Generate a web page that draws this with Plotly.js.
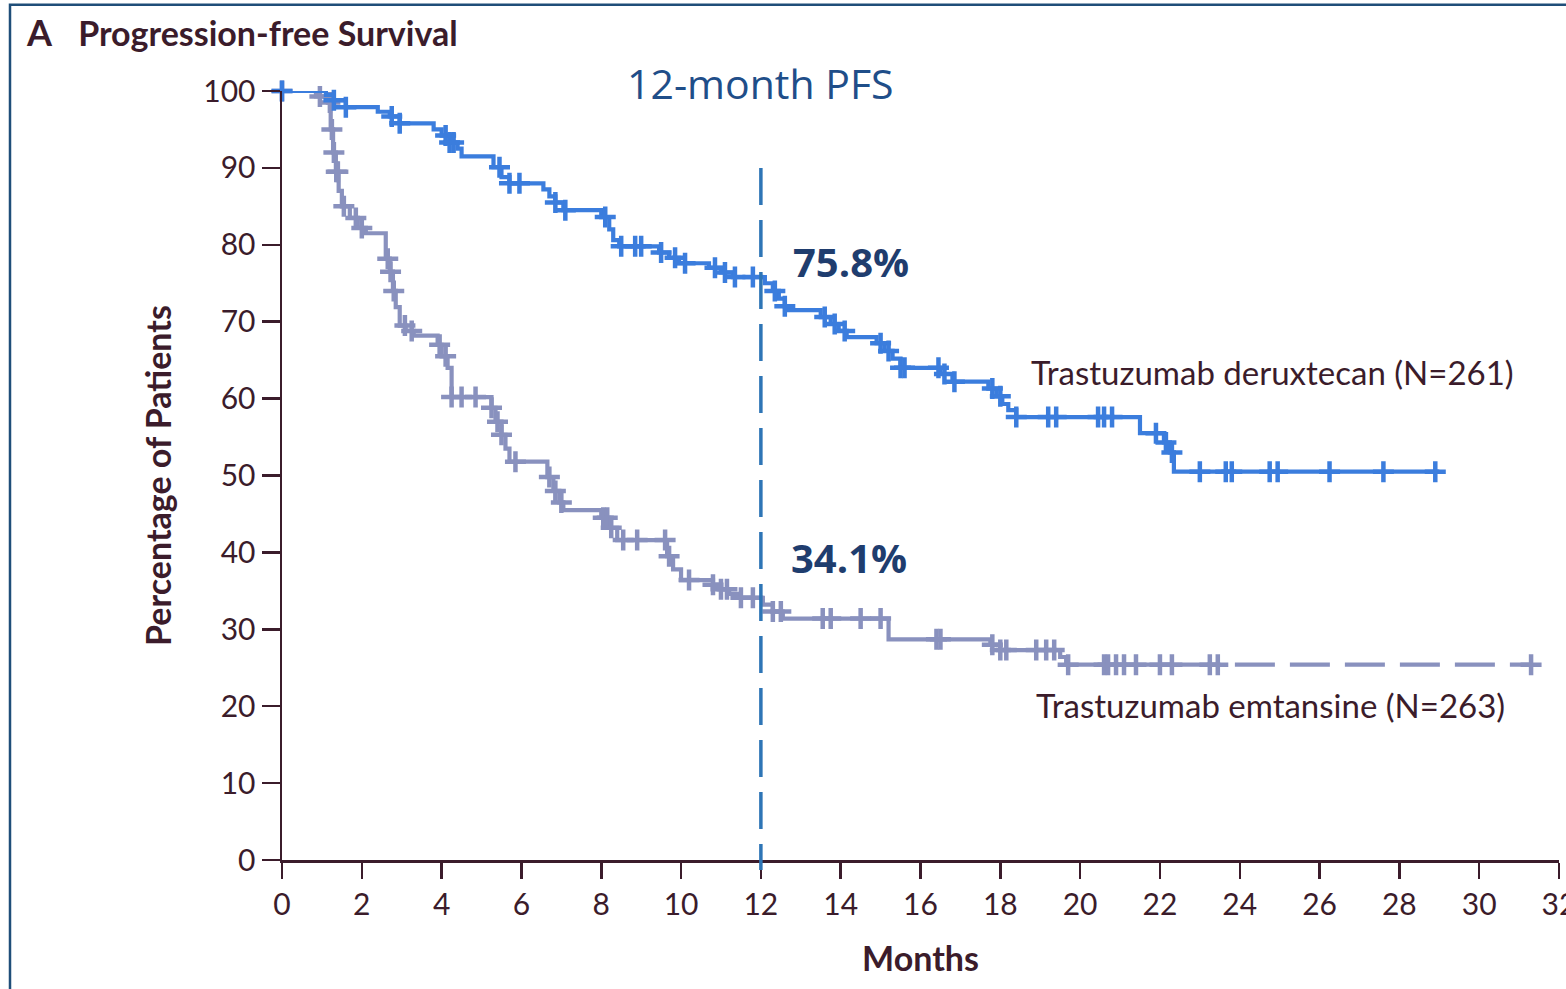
<!DOCTYPE html>
<html>
<head>
<meta charset="utf-8">
<script src="https://cdn.plot.ly/plotly-3.0.1.min.js"></script>
<style>html,body{margin:0;padding:0;background:#fff;}#chart{width:1566px;height:989px;}</style>
</head>
<body>
<div id="chart"></div>
<script>
// ---- Data ----
const xTicks = [0,2,4,6,8,10,12,14,16,18,20,22,24,26,28,30,32];
const yTicks = [0,10,20,30,40,50,60,70,80,90,100];

// Trastuzumab deruxtecan: step times (months) and survival (%) after each step
const dxdTimes = [0,1.1,1.3,1.6,2.4,2.7,2.95,3.8,4.0,4.2,4.4,4.5,5.3,5.5,5.7,6.55,6.7,6.85,7.05,8.0,8.2,8.3,8.45,9.45,9.7,9.95,10.7,11.0,11.3,12.1,12.3,12.45,12.6,12.7,13.5,13.75,13.95,14.15,14.9,15.1,15.3,15.5,16.5,16.8,17.7,17.9,18.05,18.2,18.4,21.5,22.1,22.25,22.35];
const dxdSurv  = [100,99.5,98.8,97.9,97.3,96.7,95.8,95.0,94.2,93.3,92.5,91.5,90.1,88.8,88.0,87.2,86.3,85.5,84.5,83.6,82.0,80.6,79.8,79.0,78.3,77.6,77.0,76.4,75.8,75.0,74.0,73.0,72.0,71.5,70.6,69.7,68.8,68.0,67.2,66.2,65.2,64.0,63.2,62.2,61.3,60.3,59.3,58.5,57.6,55.5,54.3,53.0,50.5];
const dxdEnd = 29.0;
const dxdCensor = [0,1.3,1.6,2.75,2.95,4.1,4.2,4.3,5.45,5.7,5.95,6.85,7.1,8.1,8.5,8.85,9.0,9.5,9.85,10.1,10.85,11.1,11.35,11.8,12.35,12.6,13.6,13.85,14.1,15.0,15.2,15.5,15.6,16.45,16.6,16.85,17.8,18.0,18.4,19.2,19.4,20.45,20.6,20.8,21.9,22.15,22.3,23.0,23.65,23.8,24.75,24.95,26.25,27.6,28.9];

// Trastuzumab emtansine
const tdmTimes = [0,0.85,1.15,1.22,1.28,1.35,1.42,1.5,1.7,1.9,2.1,2.6,2.7,2.78,2.85,2.95,3.1,3.3,3.9,4.0,4.15,4.25,5.25,5.35,5.5,5.6,5.7,6.65,6.8,6.95,7.05,8.0,8.2,8.4,9.65,9.8,10.0,10.8,11.0,11.2,11.4,12.05,12.3,12.55,15.2,17.75,18.0,19.5,19.65];
const tdmSurv  = [100,99.3,98.5,95.0,92.0,89.5,87.0,85.0,83.5,82.2,81.5,78.2,76.5,74.0,71.9,69.5,68.8,68.2,67.0,65.5,64.0,60.2,58.8,57.0,55.3,53.5,51.8,49.8,48.0,46.5,45.5,44.5,43.2,41.6,39.5,37.8,36.4,35.8,35.2,34.6,34.1,33.2,32.3,31.4,28.7,28.0,27.3,26.4,25.4];
const tdmEnd = 31.3;
const tdmDashFrom = 22.5;
const tdmCensor = [0,0.95,1.2,1.25,1.3,1.36,1.4,1.55,1.85,2.0,2.65,2.72,2.8,3.08,3.25,3.95,4.1,4.25,4.5,4.85,5.25,5.4,5.5,5.85,6.7,6.85,7.0,8.05,8.15,8.25,8.55,8.9,9.6,9.7,10.2,10.8,11.0,11.15,11.5,11.8,12.3,12.5,13.55,13.75,14.5,15.0,16.4,16.5,17.8,18.0,18.15,18.9,19.15,19.35,19.7,20.6,20.7,20.9,21.1,21.4,22.0,22.3,23.25,23.45,31.3];

const labelDxd = "Trastuzumab deruxtecan (N=261)";
const labelTdm = "Trastuzumab emtansine (N=263)";
const pfsDxd = "75.8%";
const pfsTdm = "34.1%";
const landmark = 12;

// ---- helpers ----
function stepAt(times, surv, t){ let v = surv[0]; for (let i=0;i<times.length;i++){ if (times[i] <= t) v = surv[i]; } return v; }
function stepLine(times, surv, from, to){
  const xs=[], ys=[];
  xs.push(from); ys.push(stepAt(times,surv,from));
  for (let i=0;i<times.length;i++){ if (times[i] > from && times[i] < to){ xs.push(times[i]); ys.push(surv[i]); } }
  xs.push(to); ys.push(stepAt(times,surv,to));
  return {x:xs, y:ys};
}

const BLUE = '#3b7ddd', GRAY = '#8991be', AX = '#3b1c2b';

const dxdLine = stepLine(dxdTimes, dxdSurv, 0, dxdEnd);
const tdmLine1 = stepLine(tdmTimes, tdmSurv, 0, tdmDashFrom);
const tdmLine2 = stepLine(tdmTimes, tdmSurv, tdmDashFrom, tdmEnd);

const mk = (c)=>({symbol:'cross-thin', size:15, color:c, line:{color:c, width:4.5}});

const traces = [
  {x:tdmLine1.x, y:tdmLine1.y, mode:'lines', line:{shape:'hv', color:GRAY, width:4.2}, hoverinfo:'skip', showlegend:false, name:labelTdm},
  {x:tdmLine2.x, y:tdmLine2.y, mode:'lines', line:{shape:'hv', color:GRAY, width:4.2, dash:'40px,15px'}, hoverinfo:'skip', showlegend:false},
  {x:tdmCensor, y:tdmCensor.map(t=>stepAt(tdmTimes,tdmSurv,t)), mode:'markers', marker:mk(GRAY), cliponaxis:false, showlegend:false},
  {x:dxdLine.x, y:dxdLine.y, mode:'lines', line:{shape:'hv', color:BLUE, width:4.2}, hoverinfo:'skip', showlegend:false, name:labelDxd},
  {x:dxdCensor, y:dxdCensor.map(t=>stepAt(dxdTimes,dxdSurv,t)), mode:'markers', marker:mk(BLUE), cliponaxis:false, showlegend:false}
];

const FONT = 'Lato, "Open Sans", sans-serif';

const layout = {
  width:1566, height:989,
  margin:{l:282, r:7, t:91, b:129},
  paper_bgcolor:'#fff', plot_bgcolor:'#fff',
  font:{family:FONT, color:AX},
  title:{text:'<b><span style="font-size:36px">A</span></b>   <b>Progression-free Survival</b>', xref:'container', yref:'container', x:27/1566, y:1-34/989, xanchor:'left', yanchor:'middle', font:{family:FONT, size:34, color:AX}},
  xaxis:{range:[0,32], tickvals:xTicks, ticktext:xTicks.map(String), showgrid:false, zeroline:false,
    showline:true, linecolor:AX, linewidth:2.5, ticks:'outside', ticklen:16, tickwidth:2.5, tickcolor:AX,
    ticklabeloverflow:'allow',
    tickfont:{family:FONT, size:30, color:AX},
    title:{text:'<b>Months</b>', font:{family:FONT, size:34, color:AX}, standoff:28}, automargin:false},
  yaxis:{range:[0,100], tickvals:yTicks, ticktext:yTicks.map(String), showgrid:false, zeroline:false,
    showline:true, linecolor:AX, linewidth:2.5, ticks:'outside', ticklen:18, tickwidth:2.5, tickcolor:AX,
    tickfont:{family:FONT, size:30, color:AX},
    title:{text:'<b>Percentage of Patients</b>', font:{family:FONT, size:34, color:AX}, standoff:22}, automargin:false},
  shapes:[
    {type:'line', xref:'x', yref:'paper', x0:landmark, x1:landmark, y0:0.9, y1:-0.013, line:{color:'#2e75b6', width:3.5, dash:'37px,15px'}},
    {type:'rect', xref:'paper', yref:'paper', x0:-0.213, x1:1.05, y0:-0.2, y1:1.112, line:{color:'#1f4e79', width:2.5}, fillcolor:'rgba(0,0,0,0)'}
  ],
  annotations:[
    {x:landmark, y:1.01, xref:'x', yref:'paper', text:'12-month PFS', showarrow:false, xanchor:'center', yanchor:'middle', font:{family:'"Open Sans", sans-serif', size:41, color:'#1f4e89'}},
    {x:12.76, y:77.8, xref:'x', yref:'y', text:'<b>'+pfsDxd+'</b>', showarrow:false, xanchor:'left', yanchor:'middle', font:{family:'"Open Sans", sans-serif', size:40, color:'#1f3d6e'}},
    {x:12.71, y:39.3, xref:'x', yref:'y', text:'<b>'+pfsTdm+'</b>', showarrow:false, xanchor:'left', yanchor:'middle', font:{family:'"Open Sans", sans-serif', size:40, color:'#1f3d6e'}},
    {x:18.72, y:63.5, xref:'x', yref:'y', text:labelDxd, showarrow:false, xanchor:'left', yanchor:'middle', font:{family:FONT, size:33, color:AX}},
    {x:18.85, y:20.2, xref:'x', yref:'y', text:labelTdm, showarrow:false, xanchor:'left', yanchor:'middle', font:{family:FONT, size:33, color:AX}}
  ]
};

Plotly.newPlot('chart', traces, layout, {displayModeBar:false, staticPlot:true});
</script>
</body>
</html>
